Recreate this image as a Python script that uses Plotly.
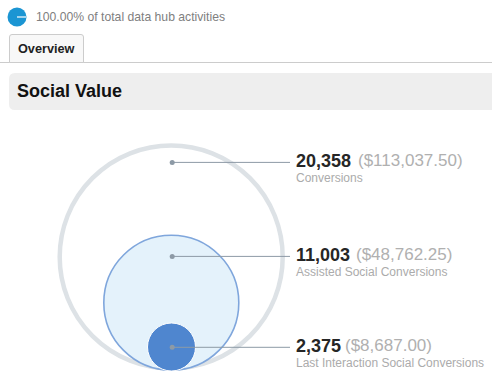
import plotly.graph_objects as go

# Data
metric_names = ["Conversions", "Assisted Social Conversions", "Last Interaction Social Conversions"]
metric_counts = ["20,358", "11,003", "2,375"]
metric_values = ["($113,037.50)", "($48,762.25)", "($8,687.00)"]
share_text = "100.00% of total data hub activities"
tab_label = "Overview"
section_title = "Social Value"

# Layout (pixel-space axes)
W, H = 492, 379
cx = [171.2, 171.3, 171.5]
cy = [257.0, 302.7, 347.0]
diam = [223.0, 135.0, 48.0]
fills = ["rgba(255,255,255,0)", "#e4f2fb", "#4f86cf"]
edge = ["#dde2e6", "#7fa6dc", "#ffffff"]
edge_w = [4.5, 1.6, 1.0]
dot_x = 172.2
dot_y = [162.4, 256.4, 347.3]
line_end = 290
label_x = 296
count_y = [160.5, 254.5, 345.5]
name_y = [177.5, 271.5, 362.5]

fig = go.Figure()
for i in range(3):
    fig.add_trace(go.Scatter(x=[cx[i]], y=[cy[i]], mode="markers", hoverinfo="skip",
                             marker=dict(size=diam[i], color=fills[i], line=dict(color=edge[i], width=edge_w[i]))))
for i in range(3):
    fig.add_trace(go.Scatter(x=[dot_x, line_end], y=[dot_y[i], dot_y[i]], mode="lines", hoverinfo="skip",
                             line=dict(color="#8d9aa6", width=1)))
fig.add_trace(go.Scatter(x=[dot_x]*3, y=dot_y, mode="markers", hoverinfo="skip",
                         marker=dict(size=5, color="#8d9aa6")))

F = "Liberation Sans, Arial, sans-serif"
shapes = [
    dict(type="circle", x0=7.5, x1=26.5, y0=7.5, y1=26.5, fillcolor="#1b95d3", line_width=0, layer="below"),
    dict(type="line", x0=17, x1=26, y0=17, y1=17, line=dict(color="#ffffff", width=1.2)),
    dict(type="line", x0=0, x1=W, y0=62.5, y1=62.5, line=dict(color="#cccccc", width=1), layer="below"),
    dict(type="path", path="M 9.5 62.5 L 9.5 37 Q 9.5 34.5 12 34.5 L 81 34.5 Q 83.5 34.5 83.5 37 L 83.5 62.5 Z",
         fillcolor="#f8f8f8", line=dict(color="#cccccc", width=1), layer="below"),
    dict(type="path", path="M 15 73 L 492 73 L 492 110 L 15 110 Q 9 110 9 104 L 9 79 Q 9 73 15 73 Z",
         fillcolor="#eeeeee", line_width=0, layer="below"),
]

anns = [
    dict(x=36, y=17, text=share_text, font=dict(size=12.2, color="#808080", family=F)),
    dict(x=18, y=48.5, text="<b>%s</b>" % tab_label, font=dict(size=12.7, color="#222222", family=F)),
    dict(x=17, y=91, text="<b>%s</b>" % section_title, font=dict(size=18, color="#111111", family=F)),
]
for i in range(3):
    anns.append(dict(x=label_x, y=count_y[i],
                     text="<b>%s</b>" % metric_counts[i], font=dict(size=18, color="#262626", family=F)))
    anns.append(dict(x=label_x + [62, 60, 49][i], y=count_y[i],
                     text=metric_values[i], font=dict(size=17, color="#b0b0b0", family=F)))
    anns.append(dict(x=label_x, y=name_y[i], text=metric_names[i],
                     font=dict(size=12, color="#ababab", family=F)))
for a in anns:
    a.update(xanchor="left", yanchor="middle", showarrow=False, xref="x", yref="y",
             borderpad=0, borderwidth=0)

fig.update_layout(
    width=W, height=H, margin=dict(l=0, r=0, t=0, b=0), showlegend=False,
    paper_bgcolor="#ffffff", plot_bgcolor="#ffffff",
    xaxis=dict(range=[0, W], visible=False, fixedrange=True),
    yaxis=dict(range=[H, 0], visible=False, fixedrange=True),
    shapes=shapes, annotations=anns,
)
fig.write_html("out.html", config={"displayModeBar": False},
               post_script="document.body.style.margin='0';document.documentElement.style.overflow='hidden';")
